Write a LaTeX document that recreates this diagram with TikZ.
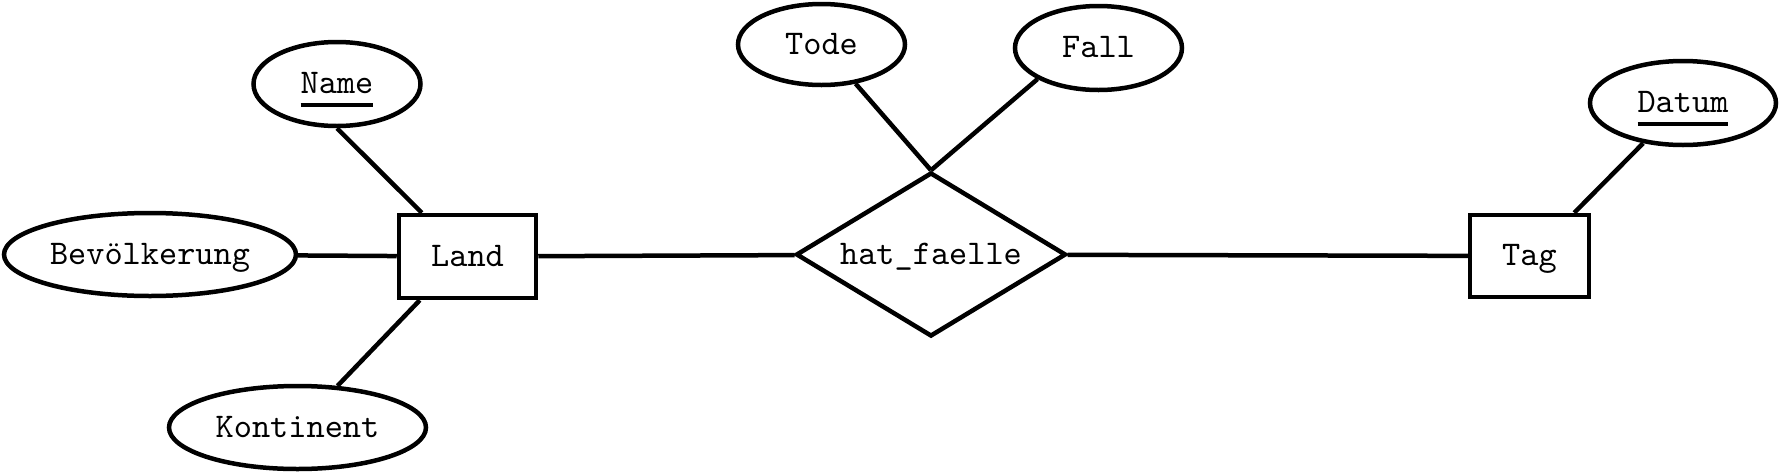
\documentclass[tikz,border=0pt]{standalone}
\usepackage{fontspec}
\usetikzlibrary{shapes.geometric}
\newcommand\keyattr[1]{\setbox0\hbox{#1}\rlap{\rule[-.13cm]{\wd0}{.038cm}}\box0}
\begin{document}
\begin{tikzpicture}[line width=.045cm,
    attr/.style={draw,ellipse,inner sep=0,minimum height=.84cm},
    entity/.style={draw,rectangle,inner sep=0},
    rel/.style={draw,diamond,aspect=1.65,inner sep=0},
    every node/.style={font=\ttfamily\fontsize{9.85}{11}\selectfont,text height=.19cm,text depth=0cm}]
\useasboundingbox (0,0) rectangle (17.8,-4.73);
\node[entity,minimum width=1.37cm,minimum height=.83cm] (land) at (4.675,-2.565) {Land};
\node[entity,minimum width=1.19cm,minimum height=.82cm] (tag) at (15.295,-2.56) {Tag};
\node[rel,minimum width=2.70cm,minimum height=1.64cm] (hat) at (9.31,-2.545) {hat\_faelle};
\node[attr,minimum width=1.67cm] (name) at (3.37,-.84) {\keyattr{Name}};
\node[attr,minimum width=2.92cm,minimum height=.83cm] (bev) at (1.50,-2.545) {Bevölkerung};
\node[attr,minimum width=2.57cm,minimum height=.83cm] (kont) at (2.975,-4.275) {Kontinent};
\node[attr,minimum width=1.67cm,minimum height=.81cm] (tode) at (8.215,-.445) {Tode};
\node[attr,minimum width=1.67cm] (fall) at (10.985,-.48) {Fall};
\node[attr,minimum width=1.86cm] (datum) at (16.83,-1.03) {\keyattr{Datum}};
\draw (name.south)--([xshift=.25cm]land.north west);
\draw (bev)--(land);
\draw (kont)--([xshift=.23cm]land.south west);
\draw (land)--(hat);
\draw (hat)--(tag);
\draw (tode)--(hat.north);
\draw (fall.207)--(hat.north);
\draw (datum)--([xshift=-.17cm]tag.north east);
\end{tikzpicture}
\end{document}
